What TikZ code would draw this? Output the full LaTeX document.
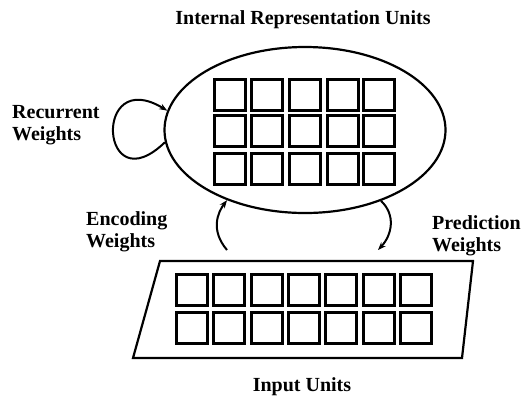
\documentclass[tikz,border=0pt]{standalone}
\usepackage{fontspec}
\setmainfont{Liberation Serif}
\usetikzlibrary{arrows.meta,shapes.geometric}
\begin{document}
\begin{tikzpicture}[x=1pt,y=-1pt,
  unit/.style={draw,line width=2.2pt,minimum size=31pt,inner sep=0pt,outer sep=0pt},
  lbl/.style={font=\fontsize{20}{22}\selectfont\bfseries,inner sep=0pt},
  conn/.style={line width=2pt,-{Stealth[length=8pt,width=6pt]}},
  outline/.style={line width=2.2pt}]
\useasboundingbox (0,0) rectangle (521,397);
% internal representation ellipse
\node[outline,draw,ellipse,minimum width=281pt,minimum height=166pt,inner sep=0pt] (ir) at (305,130) {};
\foreach \r [count=\i] in {95,131,169}{
  \foreach \c [count=\j] in {230,267,305,343,379}{
    \node[unit] (h\i\j) at (\c,\r) {};
  }
}
% input parallelogram
\coordinate (p1) at (160,261);
\coordinate (p2) at (473,261);
\coordinate (p3) at (462,358);
\coordinate (p4) at (133,358);
\draw[outline] (p1) -- (p2) -- (p3) -- (p4) -- cycle;
\node[inner sep=0pt,minimum width=300pt,minimum height=97pt] (in) at (303,309) {};
\foreach \r [count=\i] in {290,328}{
  \foreach \c [count=\j] in {192,229,267,304,341,379,416}{
    \node[unit] (x\i\j) at (\c,\r) {};
  }
}
% connectors
\coordinate (encS) at (227,250);
\coordinate (preE) at (378,250);
\draw[conn] (encS) .. controls (210,230) and (218,212) .. (ir.222);
\draw[conn] (ir.317) .. controls (396,215) and (392,235) .. (preE);
\draw[conn] (ir.185) .. controls (100,205) and (92,65) .. (ir.172);
% labels
\node[lbl] (t1) at (303,20) {Internal Representation Units};
\node[lbl,align=left,anchor=west] (t2) at (12,125) {Recurrent\\Weights};
\node[lbl,align=left,anchor=west] (t3) at (86,232) {Encoding\\Weights};
\node[lbl,align=left,anchor=west] (t4) at (432,236) {Prediction\\Weights};
\node[lbl] (t5) at (302,387) {Input Units};
\end{tikzpicture}
\end{document}
